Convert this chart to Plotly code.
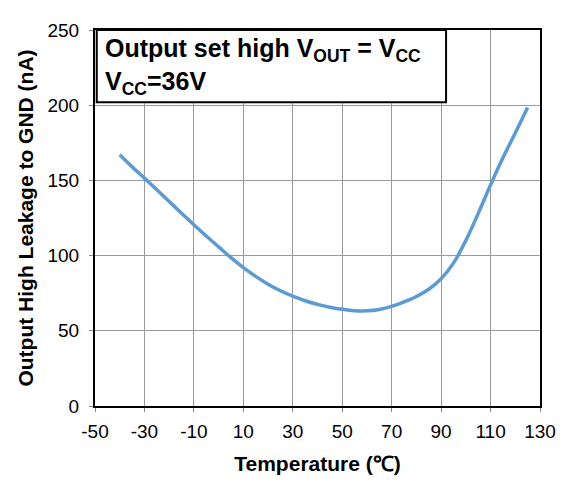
import plotly.graph_objects as go

temps = [-40, -35, -30, -25, -20, -15, -10, -5, 0, 5, 10, 15, 20, 25, 30, 35, 40, 45, 50, 55, 60,
         65, 70, 75, 80, 85, 90, 95, 100, 105, 110, 115, 120, 125]
leak = [167, 159, 151.5, 143.8, 136, 128.2, 120.5, 113, 105.8, 98.6, 92, 86.2, 81, 76.6, 73, 70,
        67.6, 65.7, 64.3, 63.4, 63.3, 64.2, 66.2, 69.2, 72.8, 77.6, 84.6, 95, 110, 128, 147, 165, 181.5, 198.5]

x_ticks = [-50, -30, -10, 10, 30, 50, 70, 90, 110, 130]
y_ticks = [0, 50, 100, 150, 200, 250]

FONT = "Liberation Sans, Arial, sans-serif"

fig = go.Figure()
fig.add_trace(go.Scatter(
    x=temps, y=leak, mode="lines",
    line=dict(color="#5B9BD5", width=3.5, shape="spline", smoothing=1.0),
    showlegend=False,
))

# page body has an 8px margin; compensate so the plot area matches the reference
fig.update_layout(
    width=560, height=478,
    margin=dict(l=87, r=26, t=12, b=80),
    paper_bgcolor="white", plot_bgcolor="white",
    font=dict(family=FONT, size=19, color="black"),
    xaxis=dict(
        range=[-50, 130], tickvals=x_ticks, ticktext=[str(v) for v in x_ticks],
        showgrid=True, gridcolor="#9a9a9a", gridwidth=1,
        showline=True, linecolor="black", linewidth=2, mirror=True,
        ticks="outside", ticklen=4, tickcolor="#888", zeroline=False,
        ticklabelstandoff=3,
        title=dict(text="<b>Temperature (℃)</b>", font=dict(size=21), standoff=16),
        tickfont=dict(size=19),
    ),
    yaxis=dict(
        range=[0, 250], tickvals=y_ticks,
        showgrid=True, gridcolor="#9a9a9a", gridwidth=1,
        showline=True, linecolor="black", linewidth=2, mirror=True,
        ticks="outside", ticklen=4, tickcolor="#888", zeroline=False,
        ticklabelstandoff=6,
        title=dict(text="<b>Output High Leakage to GND (nA)</b>", font=dict(size=21), standoff=8),
        tickfont=dict(size=19),
    ),
)

fig.add_shape(type="rect", xref="x", yref="y", x0=-49.3, x1=92, y0=202, y1=250,
              line=dict(color="black", width=2), fillcolor="white", layer="above")

fig.add_annotation(
    xref="x", yref="y", x=-46.8, y=249, xanchor="left", yanchor="top",
    text="<b>Output set high V<sub>OUT</sub> = V<sub>CC</sub></b><br><b>V<sub>CC</sub>=36V</b>",
    showarrow=False, align="left", font=dict(family=FONT, size=25, color="black"),
)

fig.write_html("out.html")
